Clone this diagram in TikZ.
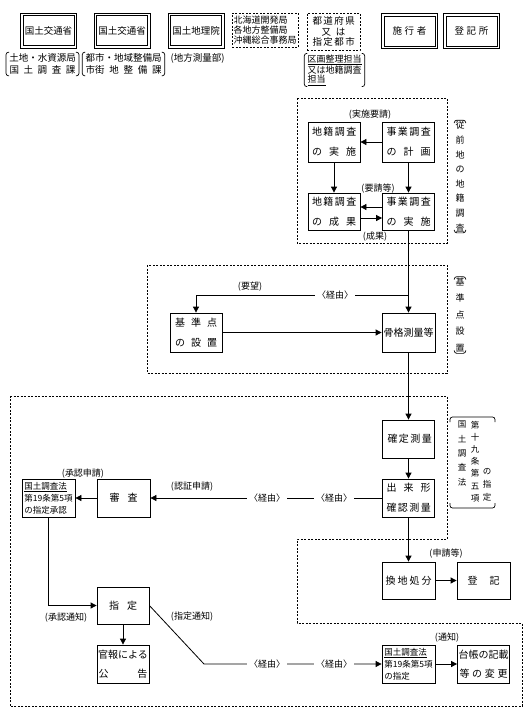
\documentclass[tikz,border=0pt]{standalone}
\usepackage{fontspec}
\setmainfont{Noto Sans CJK JP}
\usetikzlibrary{arrows.meta}
\newcommand\spr[2]{\makebox[#1][s]{#2}}
\begin{document}
\begin{tikzpicture}[x=1pt,y=-1pt,
  box/.style={draw, line width=0.8pt, minimum width=52pt, minimum height=38pt, inner sep=0pt, align=center, font=\fontsize{10}{20}\selectfont},
  sbox/.style={box, align=left, font=\fontsize{8.5}{12}\selectfont},
  dbox/.style={draw, line width=0.8pt, minimum width=56pt, minimum height=35pt, inner sep=0pt, font=\fontsize{9.5}{11}\selectfont},
  dashbox/.style={draw, dash pattern=on 2pt off 1.5pt, line width=0.7pt},
  lbl/.style={inner sep=0pt, font=\fontsize{9}{10}\selectfont},
  via/.style={lbl, fill=white, inner xsep=2pt, inner ysep=1pt},
  vlbl/.style={inner sep=1pt, align=center},
  arr/.style={-{Triangle[width=6pt,length=6pt]}, line width=0.8pt},
  pr/.style={line width=0.7pt, rounded corners=2.5pt}
]
\useasboundingbox (0,0) rectangle (529,716);

% ---------- top row ----------
\node[dbox] (t1) at (48.5,30.5) {国土交通省};
\node[dbox] (t2) at (122,30.5) {国土交通省};
\node[dbox] (t3) at (196,30.5) {国土地理院};
\node[dashbox, minimum width=66pt, minimum height=34pt, inner sep=1pt, align=left, font=\fontsize{9}{9.6}\selectfont] (t4) at (265,30) {北海道開発局\\各地方整備局\\沖縄総合事務局};
\node[dashbox, minimum width=53pt, minimum height=37pt, inner sep=1pt, align=center, font=\fontsize{9.5}{10.5}\selectfont] (t5) at (333.5,31.5) {\spr{42pt}{都 道 府 県}\\\spr{24pt}{又 は}\\\spr{42pt}{指 定 都 市}};
\node[dbox] (t6) at (409.5,31) {\spr{34pt}{施 行 者}};
\node[dbox] (t7) at (471.5,31) {\spr{34pt}{登 記 所}};
\foreach \t in {t1,t2,t3,t6,t7}{
  \draw[line width=0.8pt] ([xshift=3pt,yshift=-3pt]\t.north west) rectangle ([xshift=-3pt,yshift=3pt]\t.south east);
}

% bracket labels
\node[inner xsep=3pt, inner ysep=1pt, align=center, font=\fontsize{9.5}{12.5}\selectfont] (p1) at (42.5,64) {土地・水資源局\\\spr{66pt}{国 土 調 査 課}};
\node[inner xsep=3pt, inner ysep=1pt, align=center, font=\fontsize{9.5}{12.5}\selectfont] (p2) at (123.5,64) {都市・地域整備局\\\spr{76pt}{市街 地 整 備 課}};
\node[lbl, font=\fontsize{9.5}{11}\selectfont] (p3) at (197.5,58) {(地方測量部)};
\node[inner xsep=3pt, inner ysep=1pt, align=left, font=\fontsize{9}{9.2}\selectfont] (p4) at (334.5,70) {\underline{区画整理担当}\\又は地籍調査\\\underline{担当}};
\foreach \p in {p1,p2,p4}{
  \draw[pr] ([xshift=3pt]\p.north west) -- (\p.north west) -- (\p.south west) -- ([xshift=3pt]\p.south west);
  \draw[pr] ([xshift=-3pt]\p.north east) -- (\p.north east) -- (\p.south east) -- ([xshift=-3pt]\p.south east);
}

% ---------- region 1 ----------
\draw[dashbox] (297,98) rectangle (447,243);
\node[box, minimum height=40pt] (r1a) at (334,142) {\spr{44pt}{地 籍 調 査}\\\spr{44pt}{の 実 施}};
\node[box, minimum height=40pt] (r1b) at (408.5,142) {\spr{44pt}{事 業 調 査}\\\spr{44pt}{の 計 画}};
\node[box, minimum height=37pt] (r1c) at (334,211.5) {\spr{44pt}{地 籍 調 査}\\\spr{44pt}{の 成 果}};
\node[box, minimum height=37pt] (r1d) at (408.5,211.5) {\spr{44pt}{事 業 調 査}\\\spr{44pt}{の 実 施}};
\node[lbl] (l1) at (370,115) {(実施要請)};
\node[lbl] (l2) at (378,189) {(要請等)};
\node[lbl] (l3) at (375,237) {(成果)};
\draw[arr] (r1b.west) -- (r1a.east);
\draw[arr] (r1a.south) -- (r1c.north);
\draw[arr] (r1b.south) -- (r1d.north);
\draw[arr] ([yshift=4.5pt]r1d.west) -- ([yshift=4.5pt]r1c.east);
\draw[arr] ([yshift=-6.5pt]r1c.east) -- ([yshift=-6.5pt]r1d.west);
\node[vlbl, font=\fontsize{9}{14.6}\selectfont] (s1) at (460,176.5) {従\\前\\地\\の\\地\\籍\\調\\査};
\draw[pr] ([yshift=-3pt]s1.north west) -- (s1.north west) -- (s1.north east) -- ([yshift=-3pt]s1.north east);
\draw[pr] ([yshift=3pt]s1.south west) -- (s1.south west) -- (s1.south east) -- ([yshift=3pt]s1.south east);

% ---------- region 2 ----------
\draw[dashbox] (147,265) rectangle (447,373);
\node[box, minimum height=39pt] (r2a) at (196,332.5) {\spr{42pt}{基 準 点}\\\spr{42pt}{の 設 置}};
\node[box, minimum width=53pt, minimum height=39pt] (r2b) at (408.5,332.5) {骨格測量等};
\coordinate (y295) at (0,295);
\coordinate (j1) at (r2b.north |- y295);
\draw[arr] (r1d.south) -- (r2b.north);
\draw[arr] (j1) -| (r2a.north);
\node[via] (v0) at (335,295) {〈経由〉};
\node[lbl] (l4) at (250,287) {(要望)};
\draw[arr] (r2a.east) -- (r2b.west);
\node[vlbl, font=\fontsize{9}{16.5}\selectfont] (s2) at (460,315) {基\\準\\点\\設\\置};
\draw[pr] ([yshift=-3pt]s2.north west) -- (s2.north west) -- (s2.north east) -- ([yshift=-3pt]s2.north east);
\draw[pr] ([yshift=3pt]s2.south west) -- (s2.south west) -- (s2.south east) -- ([yshift=3pt]s2.south east);

% ---------- region 3 ----------
\draw[dashbox] (10,396) -- (447,396) -- (447,539) -- (297,539) -- (297,623) -- (522,623) -- (522,706) -- (10,706) -- cycle;
\node[box] (r3a) at (408.5,439) {\spr{42pt}{確 定 測 量}};
\node[box] (r3b) at (408.5,498) {\spr{44pt}{出 来 形}\\\spr{44pt}{確 認 測 量}};
\node[box, minimum width=53pt] (r3c) at (123.5,498) {\spr{28pt}{審 査}};
\node[sbox, minimum width=53pt] (r3d) at (48.5,498) {\underline{国土調査法}\\第19条第5項\\の指定承認};
\draw[arr] (r2b.south) -- (r3a.north);
\draw[arr] (r3a.south) -- (r3b.north);
\draw[arr] (r3b.west) -- (r3c.east);
\node[via] (v1) at (334,498) {〈経由〉};
\node[via] (v2) at (267,498) {〈経由〉};
\node[lbl] (l5) at (192,487) {(認証申請)};
\draw[arr] (r3c.west) -- (r3d.east);
\node[lbl] (l6) at (83,474) {(承認申請)};

\node[box, minimum height=37pt] (r4a) at (123,605.5) {\spr{28pt}{指 定}};
\node[box, font=\fontsize{10}{19}\selectfont] (r4b) at (123,664) {官報による\\\spr{49pt}{公 告}};
\draw[arr] (r3d.south) |- (r4a.west);
\node[lbl] (l7) at (66,618) {(承認通知)};
\draw[arr] (r4a.south) -- (r4b.north);
\node[sbox, minimum width=53pt] (r4c) at (408.5,664) {\underline{国土調査法}\\第19条第5項\\の指定};
\node[box, font=\fontsize{10}{19}\selectfont] (r4d) at (483.5,664) {台帳の記載\\\spr{48pt}{等 の 変 更}};
\coordinate (k1) at (204,664);
\draw[arr] (r4a.east) -- (k1) -- (r4c.west);
\node[via] (v3) at (267,664) {〈経由〉};
\node[via] (v4) at (334,664) {〈経由〉};
\node[lbl] (l8) at (192,617) {(指定通知)};
\draw[arr] (r4c.east) -- (r4d.west);
\node[lbl] (l9) at (447,638) {(通知)};

\node[box, minimum width=53pt, minimum height=37pt] (r5a) at (408.5,580.5) {\spr{46pt}{換 地 処 分}};
\node[box, minimum width=53pt, minimum height=37pt] (r5b) at (483.5,580.5) {\spr{32pt}{登 記}};
\draw[arr] (r3b.south) -- (r5a.north);
\node[lbl] (l10) at (446,554) {(申請等)};
\draw[arr] (r5a.east) -- (r5b.west);

% side label region 3
\node[vlbl, font=\fontsize{8.5}{14.3}\selectfont] (c1) at (462,453.5) {国\\土\\調\\査\\法};
\node[vlbl, font=\fontsize{8.5}{12.2}\selectfont] (c2) at (475,461.5) {第\\十\\九\\条\\第\\五\\項};
\node[vlbl, font=\fontsize{8.5}{13}\selectfont] (c3) at (487,485) {の\\指\\定};
\coordinate (bt1) at (450,422);
\coordinate (bt2) at (450,417);
\coordinate (bt3) at (495,417);
\coordinate (bt4) at (495,422);
\draw[pr] (bt1) -- (bt2) -- (bt3) -- (bt4);
\coordinate (bb1) at (450,503);
\coordinate (bb2) at (450,508);
\coordinate (bb3) at (495,508);
\coordinate (bb4) at (495,503);
\draw[pr] (bb1) -- (bb2) -- (bb3) -- (bb4);
\end{tikzpicture}
\end{document}
